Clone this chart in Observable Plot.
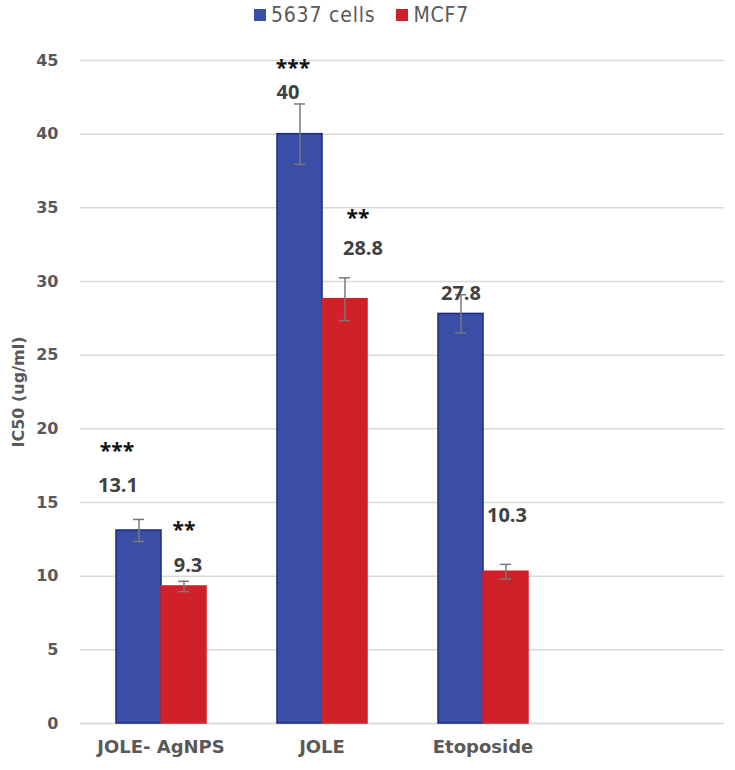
<!DOCTYPE html>
<html>
<head>
<meta charset="utf-8">
<script src="https://cdn.jsdelivr.net/npm/d3@7"></script>
<script src="https://cdn.jsdelivr.net/npm/@observablehq/plot@0.6"></script>
<style>
  html, body { margin: 0; padding: 0; background: #fff; }
  #legend { height: 30px; display: flex; justify-content: center; align-items: center; gap: 21px;
    font-family: "DejaVu Sans Condensed", "DejaVu Sans", sans-serif; font-stretch: condensed; font-size: 21px;
    letter-spacing: 0.8px; color: #595959; padding-right: 12px; }
  #legend span.sw { display: inline-block; width: 12px; height: 12px; margin-right: 5px; }
  #legend .item { display: flex; align-items: center; }
</style>
</head>
<body>
<div id="legend"></div>
<div id="chart"></div>
<script>
// ---- data ----
const groups = ["JOLE- AgNPS", "JOLE", "Etoposide", " "];
const seriesNames = ["5637 cells", "MCF7"];
const colors = ["#3A4EA7", "#D0202A"];
const values5637 = [13.1, 40, 27.8];
const valuesMCF7 = [9.3, 28.8, 10.3];
const errors5637 = [0.75, 2.05, 1.3];
const errorsMCF7 = [0.35, 1.45, 0.5];
const stars5637 = ["***", "***", ""];
const starsMCF7 = ["**", "**", ""];
// where the value labels sit (in IC50 units, as moved by hand in the original)
const labelY5637 = [16.15, 42.8, 29.2];
const labelYMCF7 = [10.7, 32.2, 14.1];
const starY5637 = [18.5, 44.5, null];
const starYMCF7 = [13.1, 34.3, null];
const labelDx5637 = [-21, -12, 0];
const labelDxMCF7 = [4, 18, 1];
const starDx5637 = [-22, -7, 0];
const starDxMCF7 = [0, 13, 0];
const yTicks = [0, 5, 10, 15, 20, 25, 30, 35, 40, 45];

const rows = [];
groups.slice(0, 3).forEach((g, i) => {
  rows.push({group: g, series: seriesNames[0], value: values5637[i], err: errors5637[i], stars: stars5637[i],
    ly: labelY5637[i], sy: starY5637[i], ldx: labelDx5637[i], sdx: starDx5637[i]});
  rows.push({group: g, series: seriesNames[1], value: valuesMCF7[i], err: errorsMCF7[i], stars: starsMCF7[i],
    ly: labelYMCF7[i], sy: starYMCF7[i], ldx: labelDxMCF7[i], sdx: starDxMCF7[i]});
});

// legend
const lg = document.getElementById("legend");
seriesNames.forEach((s, i) => {
  const it = document.createElement("div");
  it.className = "item";
  it.innerHTML = `<span class="sw" style="background:${colors[i]}"></span>${s}`;
  lg.appendChild(it);
});

const font = "'Open Sans', 'Liberation Sans', sans-serif";
const axisFont = "'DejaVu Sans', sans-serif";
const labelMarks = [];
rows.forEach(r => {
  labelMarks.push(Plot.text([r], {fx: "group", x: "series", y: "ly", text: d => d.value.toString(), dx: r.ldx,
    fill: "#404040", fontSize: 20, fontWeight: "bold", fontFamily: font}));
  if (r.stars) labelMarks.push(Plot.text([r], {fx: "group", x: "series", y: "sy", text: "stars", dx: r.sdx,
    fill: "#111", fontSize: 21, fontWeight: "bold", fontFamily: font}));
});

const chart = Plot.plot({
  width: 735,
  height: 740,
  marginLeft: 78,
  marginRight: 10,
  marginTop: 30,
  marginBottom: 47,
  style: {fontFamily: font, background: "#fff"},
  fx: {domain: groups, padding: 0, label: null, axis: null},
  x: {domain: seriesNames, paddingInner: 0, paddingOuter: 0.78, axis: null},
  y: {domain: [0, 45], label: null, axis: null},
  color: {domain: seriesNames, range: colors},
  marks: [
    Plot.gridY(yTicks, {stroke: "#d9d9d9", strokeOpacity: 1, strokeWidth: 1.5}),
    // baseline in every category slot (keeps the empty fourth slot drawn)
    Plot.ruleY(groups, {fx: d => d, y: 0, stroke: "#d9d9d9", strokeWidth: 1.5}),
    Plot.axisY(yTicks, {tickSize: 0, tickPadding: 22, fontSize: 16, fontWeight: "bold", fill: "#595959",
      fontFamily: axisFont, label: null}),
    Plot.text(["IC50 (ug/ml)"], {frameAnchor: "left", textAnchor: "middle", dx: -62, rotate: -90, fontSize: 16,
      fontWeight: "bold", fill: "#595959", fontFamily: axisFont, facet: "super"}),
    Plot.axisFx({tickSize: 0, tickPadding: 17, fontSize: 18, fontWeight: "bold", fill: "#595959", label: null,
      fontFamily: axisFont, anchor: "bottom", style: "letter-spacing: 1px"}),
    Plot.barY(rows, {fx: "group", x: "series", y: "value", fill: "series",
      stroke: d => d.series === seriesNames[0] ? "#1E2A7E" : "#D0202A", strokeWidth: 1.5}),
    Plot.ruleX(rows, {fx: "group", x: "series", y1: d => d.value - d.err, y2: d => d.value + d.err, stroke: "#7a7a7a", strokeWidth: 1.5}),
    Plot.tickY(rows, {fx: "group", x: "series", y: d => d.value + d.err, stroke: "#7a7a7a", strokeWidth: 1.5, inset: 17}),
    Plot.tickY(rows, {fx: "group", x: "series", y: d => d.value - d.err, stroke: "#7a7a7a", strokeWidth: 1.5, inset: 17}),
    ...labelMarks
  ]
});
document.getElementById("chart").appendChild(chart);
</script>
</body>
</html>
